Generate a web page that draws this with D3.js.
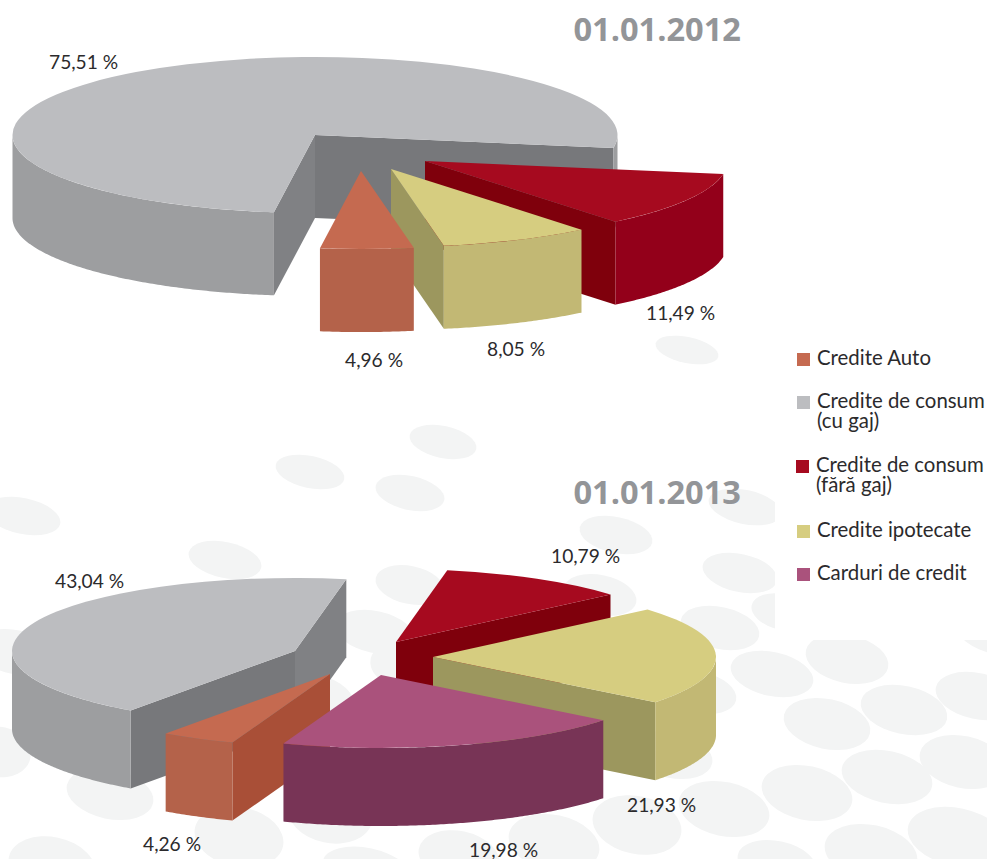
<!DOCTYPE html>
<html>
<head>
<meta charset="utf-8">
<script src="https://cdnjs.cloudflare.com/ajax/libs/d3/7.8.5/d3.min.js"></script>
<style>
  html, body { margin: 0; padding: 0; background: #fff; }
  text { font-family: Lato, "Open Sans", sans-serif; fill: #2b2a2c; }
</style>
</head>
<body>
<div id="chart-area"></div>
<script>
// slices in clockwise order
var sliceNames = ["cu gaj", "fara gaj", "ipotecate", "carduri", "auto"];
var values2012 = [75.51, 11.49, 8.05, 0, 4.96];
var values2013 = [43.04, 10.79, 21.93, 19.98, 4.26];
var labels2012 = ["75,51 %", "11,49 %", "8,05 %", "", "4,96 %"];
var labels2013 = ["43,04 %", "10,79 %", "21,93 %", "19,98 %", "4,26 %"];

var legendNames = [["Credite Auto"], ["Credite de consum", "(cu gaj)"], ["Credite de consum", "(fără gaj)"], ["Credite ipotecate"], ["Carduri de credit"]];
var legendKeys = ["auto", "cu gaj", "fara gaj", "ipotecate", "carduri"];

// top, outer side, wall, wall facing right
var colors = {
    "cu gaj": ["#bcbdc0", "#9d9ea0", "#77787b", "#808184"],
    "fara gaj": ["#a60a1f", "#93001a", "#7f000c", "#7f000c"],
    "ipotecate": ["#d6cd80", "#c2b874", "#9c975e", "#9c975e"],
    "carduri": ["#aa527c", "#783456", "#783456", "#783456"],
    "auto": ["#c56a50", "#b4624a", "#a94f37", "#a94f37"]
};

var width = 987;
var height = 859;
var tilt = 0.258;

var charts = [
    {
        title: "01.01.2012", titleY: 41,
        values: values2012, labels: labels2012,
        cx: 315, cy: 135, r: 302.5, depth: 83, start: 187.8,
        order: [0, 1, 2, 4],
        shift: [[0, 0], [110, 26], [76, 34], [0, 0], [46, 36]],
        labelPos: [[49, 69], [646, 320], [487, 356], [0, 0], [345, 367]]
    },
    {
        title: "01.01.2013", titleY: 504,
        values: values2013, labels: labels2013,
        cx: 295, cy: 651, r: 283, depth: 78, start: 215.5,
        order: [1, 0, 4, 2, 3],
        shift: [[0, 0], [101, -9], [138, 6], [86, 24], [35, 23]],
        labelPos: [[55, 588], [551, 563], [627, 812], [469, 857], [143, 851]]
    }
];

// pale dots behind the charts: x, y, rx, ry
var dots = [
    [687, 350, 32, 13], [443, 442, 34, 16], [310, 472, 35, 16], [410, 493, 35, 17],
    [23, 516, 38, 18], [225, 560, 37, 18], [616, 535, 37, 18], [745, 507, 37, 17],
    [740, 573, 38, 19], [410, 585, 35, 19], [600, 595, 37, 20], [783, 612, 32, 18],
    [720, 628, 40, 21], [375, 632, 40, 21], [400, 665, 30, 22], [15, 652, 40, 22],
    [315, 700, 40, 25], [697, 692, 40, 21], [772, 674, 42, 22], [847, 659, 42, 24],
    [1000, 633, 45, 22], [904, 710, 44, 24], [977, 696, 42, 23], [827, 724, 44, 25],
    [0, 752, 31, 25], [672, 755, 41, 23], [963, 762, 44, 26], [887, 777, 46, 26],
    [110, 794, 44, 25], [807, 793, 46, 27], [724, 809, 46, 27], [330, 813, 43, 30],
    [637, 825, 45, 29], [957, 837, 50, 29], [239, 837, 45, 30], [554, 843, 46, 28],
    [871, 853, 47, 28], [459, 857, 41, 26], [777, 863, 40, 22], [52, 866, 44, 29],
    [367, 870, 45, 22]
];

var svg = d3.select("#chart-area").append("svg")
    .attr("width", width)
    .attr("height", height)
    .style("display", "block");

// dots stop at the legend column
var clip = svg.append("clipPath").attr("id", "dot-clip");
clip.append("rect").attr("x", 0).attr("y", 0).attr("width", 775).attr("height", height);
clip.append("rect").attr("x", 775).attr("y", 640).attr("width", width - 775).attr("height", height - 640);

svg.append("g")
    .attr("clip-path", "url(#dot-clip)")
    .selectAll("ellipse")
    .data(dots)
    .enter().append("ellipse")
    .attr("rx", (d) => d[2])
    .attr("ry", (d) => d[3])
    .attr("transform", (d) => "translate(" + d[0] + "," + d[1] + ") rotate(12)")
    .attr("fill", "#f3f4f4");

var line = d3.line();

function drawPie(chart) {
    var pie = d3.pie()
        .sort(null)
        .startAngle(chart.start * Math.PI / 180)
        .endAngle((chart.start + 360) * Math.PI / 180);
    var arcs = pie(chart.values);
    var arc = d3.arc().innerRadius(0).outerRadius(chart.r);
    var g = svg.append("g");

    // angle measured clockwise from 12 o'clock, flattened onto the tilted plane
    function px(a) { return chart.r * Math.sin(a); }
    function py(a) { return -chart.r * Math.cos(a) * tilt; }

    chart.order.forEach((i) => {
        var d = arcs[i];
        var name = sliceNames[i];
        var c = colors[name];
        var s = g.append("g")
            .attr("transform", "translate(" + (chart.cx + chart.shift[i][0]) + "," + (chart.cy + chart.shift[i][1]) + ")");

        // walls on the cut edges, only where they face the viewer
        [[d.startAngle, d.startAngle - Math.PI / 2], [d.endAngle, d.endAngle + Math.PI / 2]].forEach((w) => {
            if (Math.cos(w[1]) >= 0) return;
            var facingRight = Math.sin(w[1]) > 0.96;
            s.append("path")
                .attr("d", line([[0, 0], [px(w[0]), py(w[0])], [px(w[0]), py(w[0]) + chart.depth], [0, chart.depth]]) + "Z")
                .attr("fill", facingRight ? c[3] : c[2]);
        });

        // outer rim, front half of the ellipse only
        [0, 1].forEach((n) => {
            var lo = Math.max(d.startAngle, Math.PI / 2 + 2 * Math.PI * n);
            var hi = Math.min(d.endAngle, 3 * Math.PI / 2 + 2 * Math.PI * n);
            if (hi <= lo) return;
            var steps = d3.range(lo, hi, 0.01).concat([hi]);
            var upper = steps.map((a) => [px(a), py(a)]);
            var lower = steps.slice().reverse().map((a) => [px(a), py(a) + chart.depth]);
            s.append("path")
                .attr("d", line(upper.concat(lower)) + "Z")
                .attr("fill", c[1]);
        });

        s.append("path")
            .attr("d", arc(d))
            .attr("transform", "scale(1," + tilt + ")")
            .attr("fill", c[0]);
    });

    svg.append("text")
        .attr("x", 741)
        .attr("y", chart.titleY)
        .attr("text-anchor", "end")
        .style("font-family", "'Open Sans', sans-serif")
        .style("font-size", "32.6px")
        .style("font-weight", "bold")
        .style("fill", "#939598")
        .text(chart.title);

    chart.labels.forEach((t, i) => {
        if (!t) return;
        svg.append("text")
            .attr("x", chart.labelPos[i][0])
            .attr("y", chart.labelPos[i][1])
            .style("font-size", "19.2px")
            .text(t);
    });
}

charts.forEach(drawPie);

// legend
var legendTop = [353, 396, 460, 525, 568];
legendNames.forEach((lines, i) => {
    var nudge = legendKeys[i] === "fara gaj" ? -1 : 0;
    svg.append("rect")
        .attr("x", 797 + nudge)
        .attr("y", legendTop[i])
        .attr("width", 13)
        .attr("height", 13)
        .attr("fill", colors[legendKeys[i]][0]);
    var label = svg.append("text")
        .attr("y", legendTop[i] + 12)
        .style("font-size", "20.4px");
    lines.forEach((t, j) => {
        label.append("tspan")
            .attr("x", 817 + nudge)
            .attr("dy", j === 0 ? 0 : 20)
            .text(t);
    });
});
</script>
</body>
</html>
